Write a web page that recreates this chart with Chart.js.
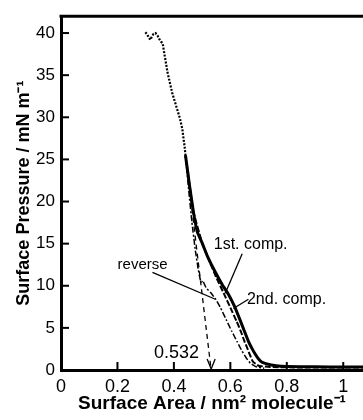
<!DOCTYPE html>
<html>
<head>
<meta charset="utf-8">
<script src="https://cdn.jsdelivr.net/npm/chart.js@4"></script>
<style>
  html, body { margin: 0; padding: 0; background: #fff; }
  #wrap { width: 363px; height: 420px; }
</style>
</head>
<body>
<div id="wrap"><canvas id="chart" width="363" height="420"></canvas></div>
<script>
// high pressure part of the isotherm (dotted)
const highX = [0.299, 0.306, 0.312, 0.317, 0.322, 0.328, 0.335, 0.342, 0.348, 0.354, 0.360, 0.363, 0.370, 0.377, 0.385, 0.394, 0.403, 0.412, 0.421, 0.430, 0.434, 0.438, 0.441];
const highY = [40.1, 39.8, 39.4, 39.2, 39.6, 39.9, 40.0, 39.7, 39.3, 39.0, 38.8, 38.2, 36.8, 35.4, 34.2, 32.9, 31.9, 30.9, 29.9, 28.6, 27.5, 26.5, 25.5];

// 1st compression (solid)
const comp1X = [0.441, 0.455, 0.469, 0.483, 0.501, 0.519, 0.547, 0.572, 0.593, 0.614, 0.636, 0.650, 0.664, 0.676, 0.688, 0.700, 0.713, 0.745, 0.780, 0.850, 0.950, 1.070];
const comp1Y = [25.5, 22.0, 18.8, 16.4, 15.0, 13.5, 11.6, 10.1, 9.0, 7.6, 5.8, 4.6, 3.4, 2.6, 1.9, 1.3, 0.9, 0.6, 0.45, 0.4, 0.35, 0.35];

// 2nd compression (dashed, just inside)
const comp2X = [0.441, 0.469, 0.501, 0.525, 0.550, 0.578, 0.600, 0.622, 0.637, 0.650, 0.660, 0.668, 0.680, 0.700, 0.740, 0.850, 1.070];
const comp2Y = [25.5, 18.8, 15.0, 13.0, 11.0, 9.0, 7.4, 5.8, 4.6, 3.4, 2.6, 1.9, 1.0, 0.5, 0.35, 0.3, 0.3];

// reverse (expansion, dash-dot)
const revX = [0.441, 0.452, 0.464, 0.476, 0.486, 0.493, 0.497, 0.502, 0.508, 0.515, 0.530, 0.548, 0.565, 0.585, 0.605, 0.625, 0.642, 0.657, 0.671, 0.690, 0.720];
const revY = [25.5, 21.5, 17.5, 14.2, 12.0, 10.8, 10.4, 10.6, 10.2, 9.7, 9.2, 8.4, 7.4, 6.0, 4.6, 3.3, 2.2, 1.4, 0.8, 0.4, 0.2];

// extrapolation to zero pressure
const extX = [0.441, 0.532];
const extY = [25.5, 0];

const xTicks = [0, 0.2, 0.4, 0.6, 0.8, 1];
const yTicks = [0, 5, 10, 15, 20, 25, 30, 35, 40];

// text labels: [text, x, y, font size]
const notes = [
  ["0.532", 0.409, 2.0, 18],
  ["reverse", 0.289, 12.5, 15],
  ["1st. comp.", 0.672, 14.9, 16],
  ["2nd. comp.", 0.799, 8.4, 16]
];
// leader lines: [x1, y1, x2, y2]
const leaders = [
  [0.324, 11.6, 0.547, 8.4],
  [0.642, 13.8, 0.582, 9.1],
  [0.664, 8.4, 0.611, 7.3]
];

const FONT = "'Liberation Sans', Arial, Helvetica, sans-serif";

function pts(xs, ys) {
  return xs.map((x, i) => ({ x: x, y: ys[i] }));
}

// frame on top, inward ticks, labels, arrow head
const extras = {
  id: "extras",
  afterDraw(chart) {
    const ctx = chart.ctx;
    const xs = chart.scales.x;
    const ys = chart.scales.y;
    const area = chart.chartArea;
    ctx.save();
    ctx.strokeStyle = "#000";

    // top frame line
    ctx.lineWidth = 3;
    ctx.beginPath();
    ctx.moveTo(area.left - 1.5, area.top);
    ctx.lineTo(area.right, area.top);
    ctx.stroke();

    // inward ticks
    ctx.lineWidth = 2;
    for (const v of yTicks) {
      const py = ys.getPixelForValue(v);
      ctx.beginPath();
      ctx.moveTo(area.left, py);
      ctx.lineTo(area.left + 8, py);
      ctx.stroke();
    }
    for (const v of xTicks) {
      const px = xs.getPixelForValue(v);
      ctx.beginPath();
      ctx.moveTo(px, area.bottom);
      ctx.lineTo(px, area.bottom - 8);
      ctx.stroke();
    }

    // leader lines
    ctx.lineWidth = 1.3;
    for (const l of leaders) {
      ctx.beginPath();
      ctx.moveTo(xs.getPixelForValue(l[0]), ys.getPixelForValue(l[1]));
      ctx.lineTo(xs.getPixelForValue(l[2]), ys.getPixelForValue(l[3]));
      ctx.stroke();
    }

    // arrow head at the end of the extrapolation
    const ax = xs.getPixelForValue(extX[1]);
    const ay = ys.getPixelForValue(extY[1]);
    ctx.lineWidth = 1.3;
    ctx.beginPath();
    ctx.moveTo(ax - 4, ay - 11);
    ctx.lineTo(ax, ay - 1);
    ctx.lineTo(ax + 4, ay - 11);
    ctx.stroke();

    // text labels
    ctx.fillStyle = "#000";
    ctx.textAlign = "center";
    ctx.textBaseline = "middle";
    for (const n of notes) {
      ctx.font = n[3] + "px " + FONT;
      ctx.fillText(n[0], xs.getPixelForValue(n[1]), ys.getPixelForValue(n[2]));
    }
    ctx.restore();
  }
};

new Chart(document.getElementById("chart"), {
  type: "line",
  data: {
    datasets: [
      {
        label: "high",
        data: pts(highX, highY),
        borderColor: "#000",
        borderWidth: 2.2,
        borderDash: [2, 1.5],
        pointRadius: 0,
        tension: 0
      },
      {
        label: "1st. comp.",
        data: pts(comp1X, comp1Y),
        borderColor: "#000",
        borderWidth: 3,
        pointRadius: 0,
        tension: 0.1
      },
      {
        label: "2nd. comp.",
        data: pts(comp2X, comp2Y),
        borderColor: "#000",
        borderWidth: 2,
        borderDash: [6, 2],
        pointRadius: 0,
        tension: 0.1
      },
      {
        label: "reverse",
        data: pts(revX, revY),
        borderColor: "#000",
        borderWidth: 1.5,
        borderDash: [6, 2, 2, 2],
        pointRadius: 0,
        tension: 0.1
      },
      {
        label: "extrapolation",
        data: pts(extX, extY),
        borderColor: "#000",
        borderWidth: 1.3,
        borderDash: [5, 4],
        pointRadius: 0
      }
    ]
  },
  options: {
    responsive: false,
    animation: false,
    events: [],
    layout: { padding: { top: 13, right: 0, left: 0, bottom: 0 } },
    plugins: {
      legend: { display: false },
      tooltip: { enabled: false }
    },
    scales: {
      x: {
        type: "linear",
        min: 0,
        max: 1.07,
        afterFit: (s) => { s.height = 50; },
        afterBuildTicks: (s) => { s.ticks = xTicks.map((v) => ({ value: v })); },
        grid: { display: false, drawTicks: false },
        border: { display: true, color: "#000", width: 3 },
        ticks: {
          color: "#000",
          padding: 6,
          maxRotation: 0,
          font: { family: FONT, size: 18 },
          callback: (v) => String(v)
        },
        title: {
          display: true,
          text: "Surface Area / nm² molecule⁻¹",
          color: "#000",
          padding: { top: 0, bottom: 5 },
          font: { family: FONT, size: 19, weight: "bold" }
        }
      },
      y: {
        type: "linear",
        min: 0,
        max: 42,
        afterFit: (s) => { s.width = 61; },
        afterBuildTicks: (s) => { s.ticks = yTicks.map((v) => ({ value: v })); },
        grid: { display: false, drawTicks: false },
        border: { display: true, color: "#000", width: 3 },
        ticks: {
          color: "#000",
          padding: 6,
          font: { family: FONT, size: 17 }
        },
        title: {
          display: true,
          text: "Surface Pressure / mN m⁻¹",
          color: "#000",
          padding: { top: 13, bottom: 0 },
          font: { family: FONT, size: 18, weight: "bold" }
        }
      }
    }
  },
  plugins: [extras]
});
</script>
</body>
</html>
